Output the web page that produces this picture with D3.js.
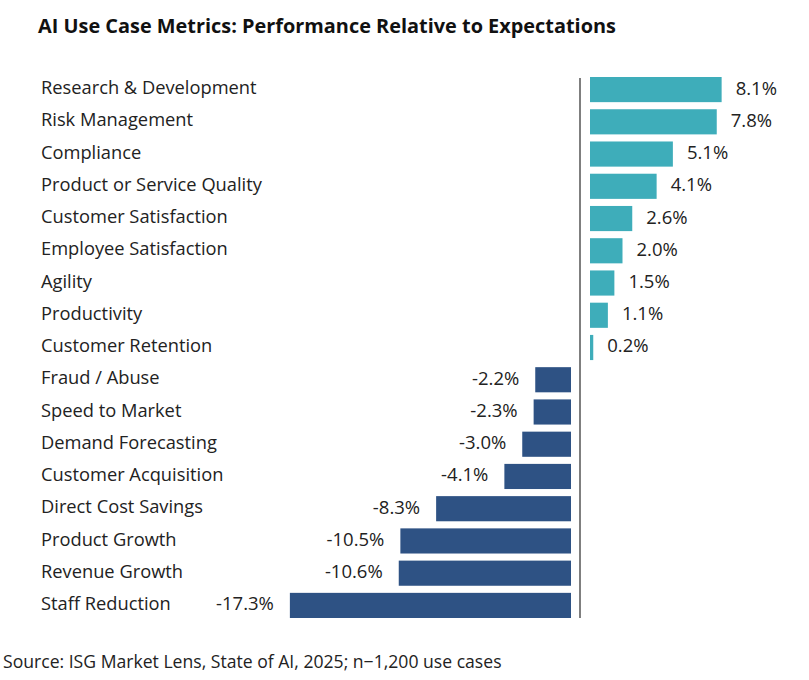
<!DOCTYPE html>
<html><head><meta charset="utf-8">
<script src="https://cdn.jsdelivr.net/npm/d3@7"></script>
<style>body{margin:0;background:#fff;} text{font-family:"Open Sans",sans-serif;}</style>
</head><body>
<svg id="c" width="809" height="680"></svg>
<script>
const categories = ["Research & Development","Risk Management","Compliance","Product or Service Quality","Customer Satisfaction","Employee Satisfaction","Agility","Productivity","Customer Retention","Fraud / Abuse","Speed to Market","Demand Forecasting","Customer Acquisition","Direct Cost Savings","Product Growth","Revenue Growth","Staff Reduction"];
const values = [8.1,7.8,5.1,4.1,2.6,2.0,1.5,1.1,0.2,-2.2,-2.3,-3.0,-4.1,-8.3,-10.5,-10.6,-17.3];
const title = "AI Use Case Metrics: Performance Relative to Expectations";
const source = "Source: ISG Market Lens, State of AI, 2025; n\u22121,200 use cases";

const svg = d3.select("#c");
const posColor = "#3EADBA", negColor = "#2E5284", textColor = "#222";
const axisX = 580, posStart = 590, negEnd = 571;
const y = d3.scaleBand().domain(categories).range([77, 618]).paddingInner(0.22).paddingOuter(0);
const len = d3.scaleLinear().domain([0, 1]).range([0, 16.25]);

svg.append("text").attr("x", 38).attr("y", 33).attr("font-size", 19.9).attr("font-weight", 700)
  .attr("fill", "#111").text(title);

const data = categories.map((c, i) => ({c, v: values[i]}));

svg.append("g").selectAll("text").data(data).join("text")
  .attr("x", 41).attr("y", d => y(d.c) + y.bandwidth()/2)
  .attr("dy", "0.25em").attr("font-size", 18.3).attr("fill", textColor).text(d => d.c);

svg.append("g").selectAll("rect").data(data).join("rect")
  .attr("x", d => d.v >= 0 ? posStart : negEnd - len(-d.v))
  .attr("y", d => y(d.c)).attr("height", y.bandwidth())
  .attr("width", d => len(Math.abs(d.v)))
  .attr("fill", d => d.v >= 0 ? posColor : negColor);

svg.append("g").selectAll("text").data(data).join("text")
  .attr("x", d => d.v >= 0 ? posStart + len(d.v) + 14 : negEnd - len(-d.v) - 16)
  .attr("y", d => y(d.c) + y.bandwidth()/2).attr("dy", "0.27em")
  .attr("text-anchor", d => d.v >= 0 ? "start" : "end")
  .attr("font-size", 18.5).attr("fill", textColor)
  .text(d => d.v.toFixed(1) + "%");

svg.append("line").attr("x1", axisX).attr("x2", axisX).attr("y1", 78).attr("y2", 618)
  .attr("stroke", "#555").attr("stroke-width", 1.5);

svg.append("text").attr("x", 3).attr("y", 668).attr("font-size", 17.6).attr("fill", textColor).text(source);
</script>
</body></html>
